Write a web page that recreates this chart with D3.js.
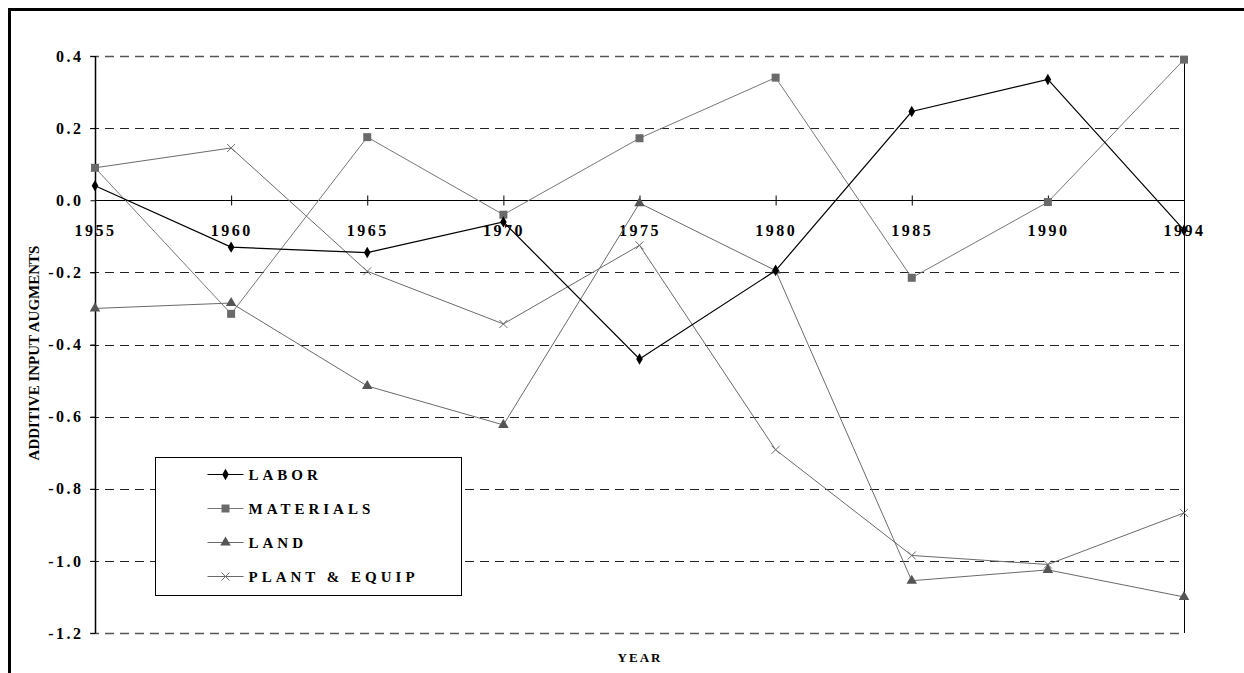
<!DOCTYPE html>
<html>
<head>
<meta charset="utf-8">
<script src="https://cdn.jsdelivr.net/npm/d3@7"></script>
<style>
  body { margin: 0; background: #fff; }
  svg { display: block; font-family: "Liberation Serif", "Times New Roman", serif; }
</style>
</head>
<body>
<div id="chart"></div>
<script>
// data
const years = ['1955', '1960', '1965', '1970', '1975', '1980', '1985', '1990', '1994'];
const labor = [0.04, -0.13, -0.145, -0.06, -0.44, -0.195, 0.246, 0.335, -0.083];
const materials = [0.09, -0.315, 0.175, -0.04, 0.172, 0.34, -0.215, -0.005, 0.39];
const land = [-0.30, -0.285, -0.515, -0.623, -0.008, -0.195, -1.055, -1.025, -1.10];
const plantEquip = [0.09, 0.145, -0.197, -0.343, -0.125, -0.692, -0.985, -1.01, -0.867];
const seriesNames = ['LABOR', 'MATERIALS', 'LAND', 'PLANT & EQUIP'];
const yTicks = [0.4, 0.2, 0.0, -0.2, -0.4, -0.6, -0.8, -1.0, -1.2];

const width = 1244;
const height = 673;

const svg = d3.select('#chart').append('svg')
  .attr('width', width)
  .attr('height', height);

// title, cut off above the page as in the source scan
svg.append('text')
  .attr('x', 20)
  .attr('y', -6)
  .attr('font-size', 24)
  .attr('font-weight', 'bold')
  .text('Figure 4.  Input Augments for the Additive Specification of Technical Change in U.S. Agriculture');

// outer frame
svg.append('rect')
  .attr('x', 9.5)
  .attr('y', 9.5)
  .attr('width', width + 20)
  .attr('height', height + 20)
  .attr('fill', 'none')
  .attr('stroke', '#000')
  .attr('stroke-width', 3);

const x = d3.scalePoint().domain(years).range([95, 1184]);
const y = d3.scaleLinear().domain([-1.2, 0.4]).range([633, 56]);

const fmt = d3.formatLocale({
  decimal: '.', thousands: ',', grouping: [3], currency: ['$', ''], minus: '-'
}).format('.1f');

// gridlines
svg.append('g')
  .selectAll('line')
  .data(yTicks.filter(d => d !== 0))
  .join('line')
  .attr('x1', 90)
  .attr('x2', 1184)
  .attr('y1', d => Math.round(y(d)) + 0.5)
  .attr('y2', d => Math.round(y(d)) + 0.5)
  .attr('stroke', d => (d === 0.4 || d === -1.2) ? '#555' : '#222')
  .attr('stroke-width', d => (d === 0.4 || d === -1.2) ? 1.5 : 1)
  .attr('stroke-dasharray', '9,6');

// right border
svg.append('line')
  .attr('x1', 1184.5).attr('x2', 1184.5)
  .attr('y1', y(0.4)).attr('y2', y(-1.2))
  .attr('stroke', '#000');

// y axis
const yAxis = svg.append('g')
  .attr('transform', 'translate(95.5,0)')
  .call(d3.axisLeft(y).tickValues(yTicks).tickFormat(fmt).tickSize(5).tickPadding(7));
yAxis.attr('font-family', '"Liberation Serif", serif');
yAxis.select('.domain').attr('stroke', '#000').attr('stroke-width', 1.5).attr('d', 'M0,' + y(0.4) + 'V' + y(-1.2));
yAxis.selectAll('text')
  .attr('font-size', 16)
  .attr('font-weight', 'bold')
  .attr('letter-spacing', 2.5)
  .attr('fill', '#000');

// x axis on the zero line
const xAxis = svg.append('g')
  .attr('transform', 'translate(0,' + (Math.round(y(0)) + 0.5) + ')')
  .call(d3.axisBottom(x).tickSize(5).tickPadding(19));
xAxis.attr('font-family', '"Liberation Serif", serif');
xAxis.select('.domain').attr('stroke', '#000').attr('d', 'M95,0H1184');
xAxis.selectAll('.tick line').attr('y1', -5).attr('y2', 5).attr('stroke', '#000');
xAxis.selectAll('text')
  .attr('font-size', 16)
  .attr('font-weight', 'bold')
  .attr('letter-spacing', 2.5)
  .attr('fill', '#000');

// axis titles
svg.append('text')
  .attr('transform', 'translate(39,353) rotate(-90)')
  .attr('text-anchor', 'middle')
  .attr('font-size', 15)
  .attr('font-weight', 'bold')
  .text('ADDITIVE INPUT AUGMENTS');

svg.append('text')
  .attr('x', 640)
  .attr('y', 662)
  .attr('text-anchor', 'middle')
  .attr('font-size', 13)
  .attr('font-weight', 'bold')
  .attr('letter-spacing', 2)
  .text('YEAR');

const series = [
  { name: seriesNames[0], values: labor, line: '#000', fill: '#000', width: 1.2, symbol: d3.symbolDiamond, size: 38 },
  { name: seriesNames[1], values: materials, line: '#777', fill: '#6a6a6a', width: 1, symbol: d3.symbolSquare, size: 64 },
  { name: seriesNames[2], values: land, line: '#6a6a6a', fill: '#555', width: 1, symbol: d3.symbolTriangle, size: 48 },
  { name: seriesNames[3], values: plantEquip, line: '#6a6a6a', fill: 'none', width: 1, symbol: 'cross', size: 8 }
];

const line = d3.line()
  .x((d, i) => x(years[i]))
  .y(d => y(d));

function drawMarker(g, s) {
  if (s.symbol === 'cross') {
    const h = s.size / 2;
    g.append('path')
      .attr('d', 'M' + -h + ',' + -h + 'L' + h + ',' + h + 'M' + -h + ',' + h + 'L' + h + ',' + -h)
      .attr('stroke', s.line)
      .attr('stroke-width', 1)
      .attr('fill', 'none');
  } else {
    g.append('path')
      .attr('d', d3.symbol().type(s.symbol).size(s.size)())
      .attr('fill', s.fill);
  }
}

// draw back to front so labor sits on top
series.slice().reverse().forEach(s => {
  const g = svg.append('g');
  g.append('path')
    .datum(s.values)
    .attr('d', line)
    .attr('fill', 'none')
    .attr('stroke', s.line)
    .attr('stroke-width', s.width);
  s.values.forEach((v, i) => {
    const m = g.append('g').attr('transform', 'translate(' + x(years[i]) + ',' + y(v) + ')');
    drawMarker(m, s);
  });
});

// legend
const legend = svg.append('g').attr('transform', 'translate(155.5,457.5)');
legend.append('rect')
  .attr('width', 306)
  .attr('height', 138)
  .attr('fill', '#fff')
  .attr('stroke', '#000')
  .attr('stroke-width', 1);

series.forEach((s, i) => {
  const row = legend.append('g').attr('transform', 'translate(0,' + (17 + i * 34) + ')');
  row.append('line')
    .attr('x1', 52).attr('x2', 88)
    .attr('stroke', s.line)
    .attr('stroke-width', s.width);
  drawMarker(row.append('g').attr('transform', 'translate(70,0)'), s);
  row.append('text')
    .attr('x', 93)
    .attr('y', 5)
    .attr('font-size', 15)
    .attr('font-weight', 'bold')
    .attr('letter-spacing', 4)
    .text(s.name);
});
</script>
</body>
</html>
